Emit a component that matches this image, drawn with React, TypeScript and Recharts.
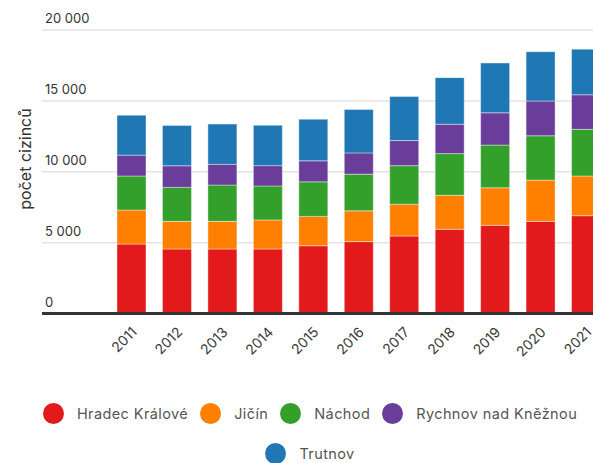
import React from 'react';
import {
  BarChart,
  Bar,
  XAxis,
  YAxis,
  CartesianGrid,
  Legend } from
'recharts';

const years = ['2011', '2012', '2013', '2014', '2015', '2016', '2017', '2018', '2019', '2020', '2021'];
const hradec = [4900, 4550, 4550, 4550, 4780, 5070, 5470, 5940, 6220, 6500, 6900];
const jicin = [2400, 1950, 1950, 2050, 2070, 2170, 2240, 2400, 2650, 2910, 2800];
const nachod = [2400, 2400, 2560, 2400, 2440, 2590, 2720, 2940, 3010, 3130, 3290];
const rychnov = [1470, 1520, 1460, 1430, 1480, 1500, 1770, 2070, 2280, 2450, 2440];
const trutnov = [2820, 2850, 2840, 2850, 2940, 3060, 3100, 3290, 3510, 3480, 3220];
const yTicks = [0, 5000, 10000, 15000, 20000];

const series = [
{ key: 'hradec', name: 'Hradec Králové', color: '#e31a1c' },
{ key: 'jicin', name: 'Jičín', color: '#ff7f00' },
{ key: 'nachod', name: 'Náchod', color: '#33a02c' },
{ key: 'rychnov', name: 'Rychnov nad Kněžnou', color: '#6a3d9a' },
{ key: 'trutnov', name: 'Trutnov', color: '#1f78b4' }];


const data = years.map((year, i) => ({
  year,
  hradec: hradec[i],
  jicin: jicin[i],
  nachod: nachod[i],
  rychnov: rychnov[i],
  trutnov: trutnov[i]
}));

const FONT = 'Inter, "Noto Sans", sans-serif';

const fmt = (v: number) => v >= 1000 ? `${Math.floor(v / 1000)} ${String(v % 1000).padStart(3, '0')}` : String(v);

const YTick = (props: any) => {
  const { y, payload } = props;
  return (
    <text x={45} y={y - 7} fill="#333" fontSize={13} fontFamily={FONT}>
      {fmt(payload.value)}
    </text>);

};

const XTick = (props: any) => {
  const { x, payload } = props;
  const px = x + 6;
  const py = 333;
  return (
    <text
      x={px}
      y={py}
      transform={`rotate(-45 ${px} ${py})`}
      textAnchor="end"
      fill="#3a3a3a"
      fontSize={14}
      fontFamily={FONT}>
      {payload.value}
    </text>);

};

const LegendContent = () =>
<div
  style={{
    display: 'flex',
    flexWrap: 'wrap',
    justifyContent: 'center',
    rowGap: 19,
    columnGap: 12,
    fontFamily: FONT,
    fontSize: 14.5,
    letterSpacing: 0.4,
    color: '#555'
  }}>
    {series.map((s) =>
  <div key={s.key} style={{ display: 'flex', alignItems: 'center', height: 21 }}>
        <span
      style={{
        width: 21,
        height: 21,
        borderRadius: '50%',
        background: s.color,
        marginRight: 13,
        display: 'inline-block'
      }} />
        <span>{s.name}</span>
      </div>
  )}
  </div>;


export default function App() {
  return (
    <div
      style={{
        position: 'absolute',
        left: 0,
        top: 0,
        width: 593,
        height: 463,
        overflow: 'hidden',
        background: '#fff'
      }}>
      <BarChart
        width={620}
        height={463}
        data={data}
        margin={{ top: 30, right: 0, left: 0, bottom: 89.5 }}>
        <CartesianGrid vertical={false} stroke="#e3e3e3" strokeWidth={1.5} />
        <XAxis
          dataKey="year"
          height={60}
          padding={{ left: 67, right: 11 }}
          tickLine={false}
          axisLine={{ stroke: '#333', strokeWidth: 3 }}
          tick={<XTick />}
          interval={0} />
        <YAxis
          width={42}
          domain={[0, 20000]}
          ticks={yTicks}
          axisLine={false}
          tickLine={false}
          tick={<YTick />}
          label={{
            content: () =>
            <text
              x={31}
              y={159}
              transform="rotate(-90 31 159)"
              textAnchor="middle"
              fill="#333"
              fontSize={16}
              fontFamily={FONT}>
                  počet cizinců
                </text>

          }} />
        <Legend
          layout="horizontal"
          verticalAlign="middle"
          align="center"
          content={<LegendContent />}
          wrapperStyle={{ position: 'absolute', top: 402.5, left: 0, width: 620, height: 61 }} />
        {series.map((s) =>
        <Bar
          key={s.key}
          dataKey={s.key}
          name={s.name}
          stackId="a"
          fill={s.color}
          barSize={29}
          stroke="rgba(255,255,255,0.4)"
          strokeWidth={1}
          isAnimationActive={false} />
        )}
      </BarChart>
    </div>);

}
